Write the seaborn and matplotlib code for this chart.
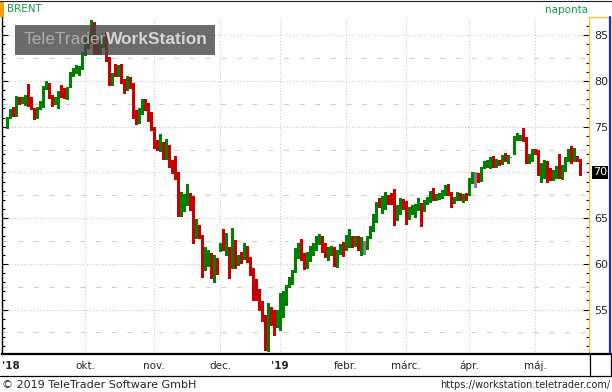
import numpy as np
import pandas as pd
import matplotlib
matplotlib.use("Agg")
import matplotlib.pyplot as plt
import seaborn as sns
from matplotlib.patches import Rectangle
from matplotlib.lines import Line2D
from matplotlib.transforms import blended_transform_factory

# ---- daily BRENT candles, 2018-08-24 .. 2019-05-22 ----
opens = [
    75.1, 76.2, 77.0, 76.3, 78.0, 77.8, 77.6, 78.0, 78.1, 77.0,
    76.0, 77.1, 77.3, 79.3, 79.6, 78.4, 77.7, 77.3, 79.1, 79.0,
    78.5, 79.4, 80.8, 81.1, 81.0, 81.4, 83.0, 84.6, 84.4, 86.1,
    83.8, 83.3, 84.0, 85.2, 82.5, 80.1, 81.7, 80.8, 81.7, 80.0,
    79.3, 79.9, 79.6, 76.2, 75.8, 76.6, 77.8, 77.0, 76.4, 74.8,
    72.9, 72.6, 73.1, 71.9, 72.4, 71.1, 71.2, 69.5, 65.5, 66.2,
    67.0, 67.4, 67.2, 63.0, 64.0, 62.9, 60.0, 60.6, 60.8, 59.4,
    60.2, 61.7, 62.0, 61.4, 61.6, 60.2, 62.4, 60.4, 61.0, 60.8,
    61.5, 60.6, 59.3, 57.2, 57.0, 55.6, 54.2, 51.2, 54.7, 54.5,
    53.7, 54.5, 54.5, 55.8, 57.6, 58.1, 59.3, 61.1, 61.5, 60.9,
    60.0, 60.6, 61.3, 61.7, 62.6, 62.8, 61.9, 61.1, 61.3, 61.5,
    60.1, 61.4, 62.1, 61.7, 62.6, 62.9, 62.3, 62.7, 61.8, 62.0,
    61.8, 63.0, 63.9, 65.2, 66.8, 66.4, 66.4, 67.0, 67.0, 67.7,
    65.3, 65.9, 66.8, 66.7, 65.3, 65.8, 65.5, 66.1, 66.4, 66.0,
    66.7, 67.0, 67.6, 67.2, 67.3, 67.5, 67.7, 68.4, 67.7, 66.9,
    67.2, 67.5, 67.1, 67.5, 67.7, 69.2, 69.5, 69.5, 69.4, 70.8,
    70.9, 70.9, 71.5, 70.9, 71.2, 71.2, 71.7, 71.3, 71.6, 72.1,
    73.8, 73.8, 74.0, 73.7, 71.3, 71.7, 72.4, 72.2, 69.3, 69.7,
    71.1, 70.0, 69.9, 69.9, 70.0, 69.6, 70.5, 71.5, 72.3, 71.6,
    71.6, 71.3,
]
highs = [
    76.1, 76.9, 77.2, 78.4, 78.2, 78.3, 78.5, 79.7, 78.2, 77.1,
    77.2, 77.8, 79.4, 80.0, 79.8, 78.5, 78.3, 78.9, 79.6, 79.2,
    79.3, 81.0, 81.4, 81.8, 81.6, 83.2, 84.8, 85.2, 86.7, 86.4,
    84.3, 84.6, 85.0, 85.4, 82.6, 80.9, 81.9, 81.8, 81.9, 80.2,
    80.5, 80.4, 79.8, 76.8, 77.0, 78.0, 78.0, 77.6, 76.6, 75.0,
    73.5, 74.2, 73.3, 73.7, 73.0, 71.4, 71.8, 70.0, 67.9, 67.6,
    68.7, 67.8, 67.4, 64.9, 64.3, 63.2, 61.8, 61.5, 61.2, 61.0,
    60.6, 62.3, 63.8, 63.4, 61.8, 63.9, 62.6, 61.0, 61.3, 62.3,
    61.9, 60.8, 59.5, 58.3, 57.2, 55.9, 54.4, 55.7, 55.3, 54.9,
    55.0, 56.8, 57.0, 57.7, 58.6, 59.3, 61.7, 62.3, 62.7, 61.2,
    61.3, 61.9, 62.3, 63.1, 63.3, 63.0, 62.3, 61.8, 62.0, 61.8,
    61.5, 62.2, 62.4, 63.2, 63.8, 63.1, 63.0, 63.0, 62.9, 62.5,
    63.1, 64.1, 65.5, 66.8, 67.2, 67.4, 67.9, 67.5, 67.8, 68.2,
    66.4, 67.2, 67.1, 66.9, 66.2, 66.4, 66.5, 67.2, 66.7, 67.0,
    67.3, 68.0, 68.3, 67.6, 67.8, 68.1, 68.6, 68.7, 67.9, 67.3,
    67.9, 67.7, 67.6, 67.8, 69.4, 70.0, 70.0, 69.9, 70.6, 71.3,
    71.4, 71.7, 71.8, 71.5, 71.4, 71.9, 72.1, 71.9, 71.6, 74.0,
    74.3, 74.1, 74.9, 73.9, 72.0, 72.6, 72.6, 72.4, 71.0, 71.4,
    71.3, 70.5, 70.3, 70.7, 72.0, 70.8, 71.7, 72.6, 72.9, 72.7,
    71.8, 71.5,
]
lows = [
    74.9, 75.9, 76.2, 76.2, 77.5, 77.6, 77.4, 77.3, 76.9, 75.8,
    75.9, 76.9, 77.2, 79.1, 78.1, 77.3, 77.5, 77.1, 78.2, 78.1,
    78.0, 79.3, 80.5, 80.9, 80.7, 81.3, 82.8, 83.6, 84.2, 83.0,
    83.0, 83.0, 83.7, 82.2, 79.6, 79.6, 80.6, 80.6, 79.8, 78.7,
    79.0, 79.2, 75.9, 75.3, 75.4, 76.4, 76.8, 75.6, 74.6, 72.7,
    72.4, 72.3, 71.5, 71.5, 70.6, 69.9, 69.3, 65.2, 65.2, 65.8,
    66.4, 65.9, 62.3, 62.8, 62.8, 58.6, 59.3, 59.8, 58.5, 58.0,
    58.9, 61.4, 61.5, 61.0, 58.5, 59.5, 59.6, 59.9, 60.1, 60.5,
    60.2, 58.8, 56.0, 56.1, 54.9, 53.8, 50.6, 50.5, 53.3, 52.2,
    53.1, 52.8, 54.2, 55.5, 57.5, 57.8, 59.1, 60.6, 60.4, 59.4,
    59.5, 60.3, 61.0, 61.5, 62.2, 61.3, 60.8, 60.4, 61.0, 59.8,
    59.7, 61.1, 60.9, 61.5, 61.8, 61.8, 62.0, 61.5, 61.0, 61.1,
    61.6, 62.8, 63.6, 64.6, 66.2, 65.6, 66.0, 66.6, 66.5, 64.3,
    64.8, 65.4, 66.0, 64.4, 64.9, 65.5, 65.1, 65.9, 64.1, 65.8,
    66.5, 66.8, 67.0, 67.0, 67.1, 67.2, 67.5, 67.5, 66.2, 66.7,
    67.0, 67.0, 66.8, 67.0, 67.5, 68.8, 68.4, 68.9, 69.1, 70.5,
    70.6, 70.5, 70.6, 70.6, 70.8, 70.9, 71.2, 71.0, 71.6, 72.0,
    73.6, 73.6, 73.4, 71.0, 71.0, 71.2, 72.0, 69.7, 68.9, 69.4,
    68.9, 69.2, 69.2, 69.4, 69.4, 69.3, 70.2, 71.3, 71.0, 71.3,
    71.2, 69.7,
]
closes = [
    76.0, 76.6, 76.4, 77.8, 77.8, 78.1, 78.4, 77.7, 77.1, 76.5,
    77.0, 77.4, 79.3, 79.7, 78.3, 77.8, 78.0, 78.6, 78.4, 78.3,
    78.7, 80.9, 81.1, 81.5, 81.3, 83.0, 84.4, 84.0, 86.1, 83.3,
    83.4, 84.1, 84.5, 82.4, 80.3, 80.4, 80.8, 81.5, 80.0, 79.2,
    79.8, 79.6, 76.3, 75.9, 76.6, 77.8, 77.0, 76.4, 74.8, 72.9,
    72.7, 72.8, 71.8, 72.2, 71.1, 70.4, 69.5, 65.5, 66.2, 67.0,
    67.3, 67.2, 62.9, 64.0, 63.0, 59.2, 60.8, 61.0, 59.3, 59.7,
    59.3, 61.9, 61.8, 61.7, 60.6, 61.7, 60.1, 60.5, 60.5, 62.0,
    60.6, 59.0, 56.2, 57.0, 55.2, 54.2, 51.0, 55.5, 53.7, 53.6,
    54.5, 55.2, 55.8, 57.4, 57.8, 58.9, 61.5, 61.5, 61.1, 59.6,
    61.0, 61.6, 61.6, 62.8, 62.7, 61.7, 61.2, 61.2, 61.8, 60.2,
    61.3, 61.8, 61.3, 62.9, 62.8, 62.3, 62.7, 61.8, 62.0, 62.0,
    62.7, 63.9, 64.9, 66.5, 66.6, 66.6, 67.2, 66.9, 66.9, 64.5,
    66.0, 66.7, 66.6, 64.6, 65.9, 66.1, 66.2, 66.3, 66.2, 66.7,
    67.0, 67.7, 67.5, 67.4, 67.6, 67.9, 68.4, 67.7, 66.9, 67.1,
    67.6, 67.3, 67.3, 67.3, 69.2, 69.4, 69.5, 69.3, 70.4, 71.0,
    71.1, 71.5, 70.9, 71.3, 71.1, 71.6, 71.6, 71.6, 71.6, 73.7,
    73.9, 73.9, 73.8, 71.3, 71.7, 71.8, 72.2, 70.4, 70.8, 71.1,
    69.7, 69.9, 70.0, 70.0, 69.6, 70.5, 71.5, 72.3, 71.6, 71.7,
    71.5, 70.0,
]
month_names = {10: "okt.", 11: "nov.", 12: "dec.", 1: "'19",
               2: "febr.", 3: "márc.", 4: "ápr.", 5: "máj."}
y_ticks = [55, 60, 65, 75, 80, 85]
last_price = "70"

# trading days (no Christmas / New Year)
days = pd.bdate_range("2018-08-24", "2019-05-22")
days = days[~days.isin(pd.to_datetime(["2018-12-25", "2019-01-01"]))]

df = pd.DataFrame({"date": days, "open": opens, "high": highs,
                   "low": lows, "close": closes})
df["pos"] = np.arange(len(df))

GREEN, RED, GRAY = "#008000", "#c80000", "#808080"
df["color"] = np.where(df.close > df.open, GREEN,
                       np.where(df.close < df.open, RED, GRAY))

sns.set_style("white")
plt.rcParams["font.family"] = ["DejaVu Sans"]

W, H = 612, 392
fig = plt.figure(figsize=(W / 100, H / 100), dpi=100)
fx = lambda px: px / W
fy = lambda py: 1 - py / H

ax = fig.add_axes([fx(2), fy(354), fx(589) - fx(2), fy(17) - fy(354)])

# grid
for v in range(55, 90, 5):
    ax.axhline(v, color="#c4c4c4", lw=0.75, ls=(0, (1, 2)), zorder=0)
for v in np.arange(52.5, 87, 5):
    ax.axhline(v, color="#cfcfcf", lw=0.75, ls=(0, (5, 10)), zorder=0)

first = df.groupby([df.date.dt.year, df.date.dt.month])["pos"].min()
month_pos, month_lab = [], []
for (yr, mo), p in first.items():
    if mo in month_names and not (yr == 2018 and mo < 10):
        month_pos.append(p)
        month_lab.append(month_names[mo])
for p in month_pos:
    ax.axvline(p, color="#c4c4c4", lw=0.75, ls=(0, (1, 2)), zorder=0)

# candles
ax.vlines(df.pos, df.low, df.high, colors=df.color, lw=0.9, zorder=2,
          antialiased=False)
body_lo = np.minimum(df.open, df.close)
body_h = np.abs(df.close - df.open)
body_h = np.maximum(body_h, 0.15)
ax.bar(df.pos, body_h, bottom=body_lo - np.where(body_h == 0.15, 0.075, 0),
       width=0.66, color=df.color, lw=0, zorder=3, antialiased=False)

ax.set_xlim(-1.67, 194)
ax.set_ylim(50.14, 87.0)

ax.set_yticks(y_ticks)
ax.set_yticks(range(51, 87), minor=True)
ax.yaxis.tick_right()
ax.tick_params(axis="y", which="both", left=True, right=True, direction="in",
               labelleft=False, labelright=True, color="black", width=0.8,
               labelsize=8, pad=4)
ax.tick_params(axis="y", which="major", length=4.5)
ax.tick_params(axis="y", which="minor", length=2.5)

ax.set_xticks(month_pos)
ax.set_xticklabels(month_lab)
ax.tick_params(axis="x", which="major", direction="out", length=3, width=0.8,
               labelsize=7.5, pad=2, color="black")
for t in ax.get_xticklabels():
    if t.get_text().startswith("'"):
        t.set_fontweight("bold")

for s in ["left", "bottom"]:
    ax.spines[s].set_color("black")
ax.spines["left"].set_linewidth(1)
ax.spines["bottom"].set_linewidth(1.6)
ax.spines["right"].set_color("#f0c040")
ax.spines["right"].set_linewidth(1)
ax.spines["top"].set_visible(False)

# last price marker
tr = blended_transform_factory(ax.transAxes, ax.transData)
ax.text(1.0 + 4 / (589 - 2), df.close.iloc[-1], last_price, transform=tr,
        ha="left", va="center", color="white", fontsize=8, zorder=6,
        bbox=dict(boxstyle="square,pad=0.12", fc="black", ec="none"),
        clip_on=False)

# frame pieces
def fline(x0, y0, x1, y1, c="black", lw=1.0):
    fig.add_artist(Line2D([fx(x0), fx(x1)], [fy(y0), fy(y1)], color=c, lw=lw))

fline(0, 0.5, 612, 0.5, "#202020", 0.8)
fline(590, 17, 610, 17, "#f0c040", 1.0)
fline(610, 17, 610, 354, "#1030e0", 1.6)
fline(0, 376, 612, 376, "black", 0.9)
fline(590, 354, 590, 376, "black", 0.9)
fline(611, 354, 611, 376, "black", 0.9)
fline(589, 354, 612, 354, "black", 1.6)

fig.add_artist(Rectangle((fx(0), fy(17)), fx(4), fy(1) - fy(17),
                         transform=fig.transFigure, color="#f5a200", lw=0))
fig.text(fx(7), fy(9), "BRENT", color="#159a4a", fontsize=7.5, va="center")
fig.text(fx(588), fy(10), "naponta", color="#159a4a", fontsize=7.5,
         va="center", ha="right")
fig.text(fx(2), fy(366), "'18", fontsize=7.5, fontweight="bold",
         va="center", ha="left")

# watermark
fig.add_artist(Rectangle((fx(15), fy(55)), fx(200), fy(25) - fy(55),
                         transform=fig.transFigure, color="#464646",
                         alpha=0.8, lw=0, zorder=10))
fig.text(fx(24), fy(40), "TeleTrader", fontsize=12.5, color="#ababab",
         family="Liberation Sans", va="center", ha="left", zorder=11)
fig.text(fx(208), fy(40), "WorkStation", fontsize=12.5, color="#d4d4d4",
         family="Liberation Sans", fontweight="bold", va="center",
         ha="right", zorder=11)

fig.text(fx(2), fy(385), "© 2019 TeleTrader Software GmbH", fontsize=8,
         va="center", ha="left")
fig.text(fx(610), fy(385), "https://workstation.teletrader.com/",
         fontsize=7, va="center", ha="right")

fig.savefig("out.png", dpi=100)
